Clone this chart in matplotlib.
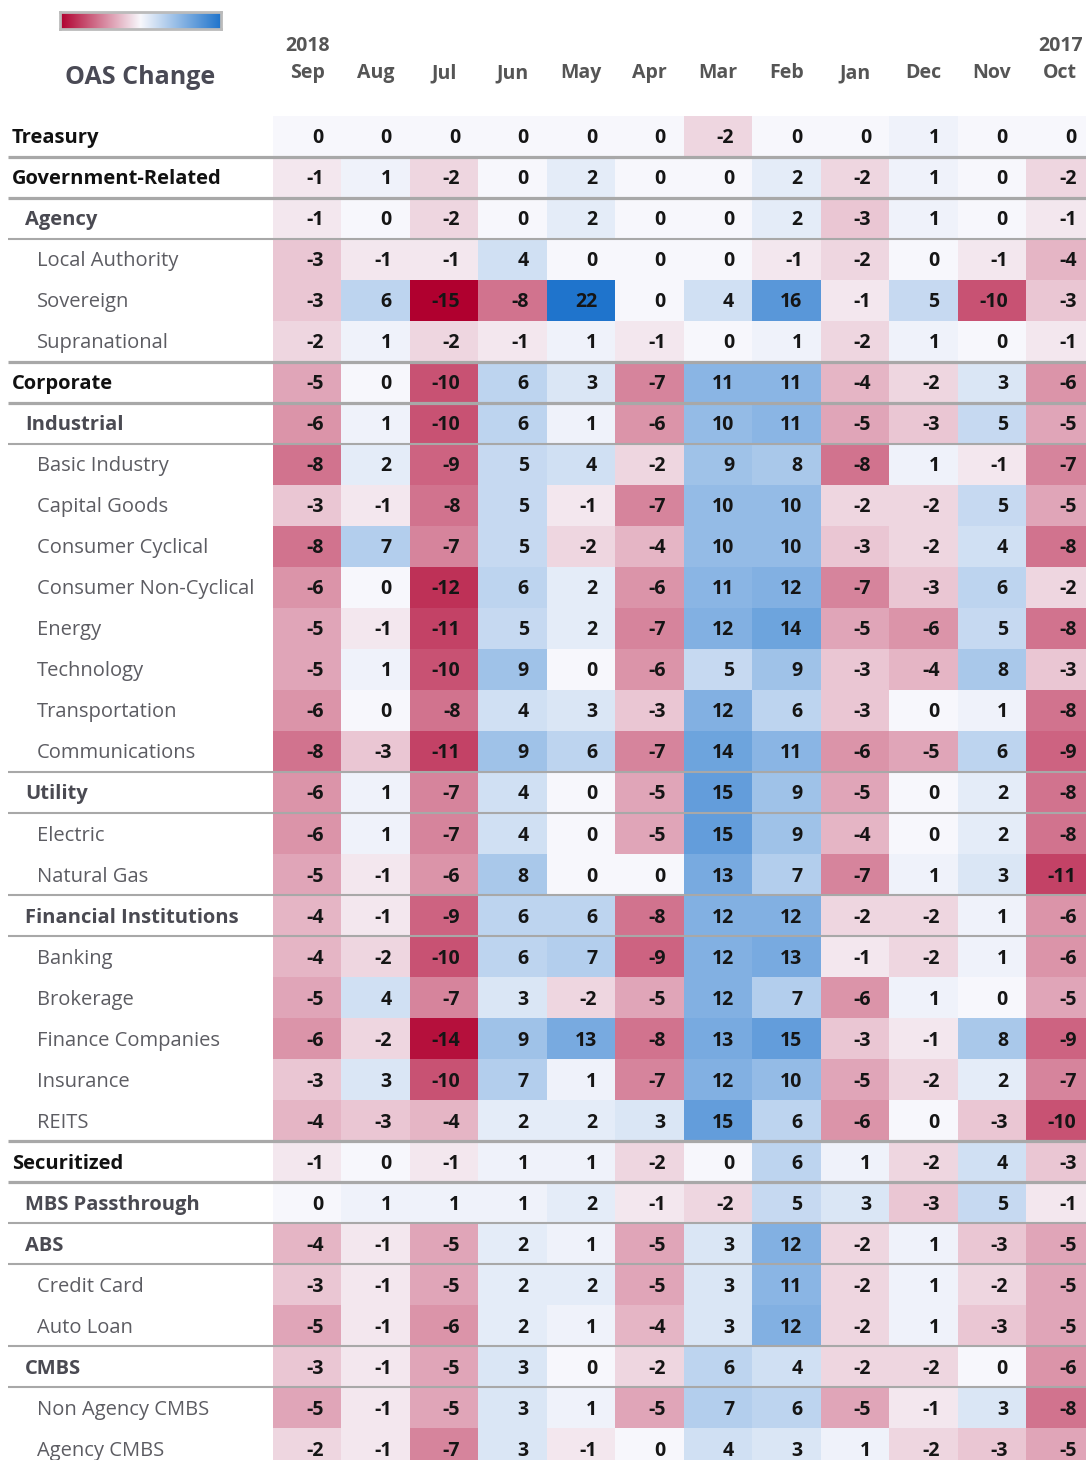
import numpy as np
import matplotlib
matplotlib.use('Agg')
from matplotlib import pyplot as plt
from matplotlib.colors import LinearSegmentedColormap, TwoSlopeNorm

plt.rcParams['font.family'] = ['Open Sans', 'DejaVu Sans']

months = ['Sep', 'Aug', 'Jul', 'Jun', 'May', 'Apr', 'Mar', 'Feb', 'Jan', 'Dec', 'Nov', 'Oct']
years = {'Sep': '2018', 'Oct': '2017'}

rows = ['Treasury', 'Government-Related', 'Agency', 'Local Authority', 'Sovereign',
        'Supranational', 'Corporate', 'Industrial', 'Basic Industry', 'Capital Goods',
        'Consumer Cyclical', 'Consumer Non-Cyclical', 'Energy', 'Technology',
        'Transportation', 'Communications', 'Utility', 'Electric', 'Natural Gas',
        'Financial Institutions', 'Banking', 'Brokerage', 'Finance Companies',
        'Insurance', 'REITS', 'Securitized', 'MBS Passthrough', 'ABS', 'Credit Card',
        'Auto Loan', 'CMBS', 'Non Agency CMBS', 'Agency CMBS']
levels = [0, 0, 1, 2, 2, 2, 0, 1, 2, 2, 2, 2, 2, 2, 2, 2, 1, 2, 2, 1, 2, 2, 2, 2, 2,
          0, 1, 1, 2, 2, 1, 2, 2]

oas = np.array([
    [0, 0, 0, 0, 0, 0, -2, 0, 0, 1, 0, 0],
    [-1, 1, -2, 0, 2, 0, 0, 2, -2, 1, 0, -2],
    [-1, 0, -2, 0, 2, 0, 0, 2, -3, 1, 0, -1],
    [-3, -1, -1, 4, 0, 0, 0, -1, -2, 0, -1, -4],
    [-3, 6, -15, -8, 22, 0, 4, 16, -1, 5, -10, -3],
    [-2, 1, -2, -1, 1, -1, 0, 1, -2, 1, 0, -1],
    [-5, 0, -10, 6, 3, -7, 11, 11, -4, -2, 3, -6],
    [-6, 1, -10, 6, 1, -6, 10, 11, -5, -3, 5, -5],
    [-8, 2, -9, 5, 4, -2, 9, 8, -8, 1, -1, -7],
    [-3, -1, -8, 5, -1, -7, 10, 10, -2, -2, 5, -5],
    [-8, 7, -7, 5, -2, -4, 10, 10, -3, -2, 4, -8],
    [-6, 0, -12, 6, 2, -6, 11, 12, -7, -3, 6, -2],
    [-5, -1, -11, 5, 2, -7, 12, 14, -5, -6, 5, -8],
    [-5, 1, -10, 9, 0, -6, 5, 9, -3, -4, 8, -3],
    [-6, 0, -8, 4, 3, -3, 12, 6, -3, 0, 1, -8],
    [-8, -3, -11, 9, 6, -7, 14, 11, -6, -5, 6, -9],
    [-6, 1, -7, 4, 0, -5, 15, 9, -5, 0, 2, -8],
    [-6, 1, -7, 4, 0, -5, 15, 9, -4, 0, 2, -8],
    [-5, -1, -6, 8, 0, 0, 13, 7, -7, 1, 3, -11],
    [-4, -1, -9, 6, 6, -8, 12, 12, -2, -2, 1, -6],
    [-4, -2, -10, 6, 7, -9, 12, 13, -1, -2, 1, -6],
    [-5, 4, -7, 3, -2, -5, 12, 7, -6, 1, 0, -5],
    [-6, -2, -14, 9, 13, -8, 13, 15, -3, -1, 8, -9],
    [-3, 3, -10, 7, 1, -7, 12, 10, -5, -2, 2, -7],
    [-4, -3, -4, 2, 2, 3, 15, 6, -6, 0, -3, -10],
    [-1, 0, -1, 1, 1, -2, 0, 6, 1, -2, 4, -3],
    [0, 1, 1, 1, 2, -1, -2, 5, 3, -3, 5, -1],
    [-4, -1, -5, 2, 1, -5, 3, 12, -2, 1, -3, -5],
    [-3, -1, -5, 2, 2, -5, 3, 11, -2, 1, -2, -5],
    [-5, -1, -6, 2, 1, -4, 3, 12, -2, 1, -3, -5],
    [-3, -1, -5, 3, 0, -2, 6, 4, -2, -2, 0, -6],
    [-5, -1, -5, 3, 1, -5, 7, 6, -5, -1, 3, -8],
    [-2, -1, -7, 3, -1, 0, 4, 3, 1, -2, -3, -5],
])

# layout in pixels
W, H = 1086, 1460
X0, CW = 273, 68.45
Y0, RH = 115.5, 41.03
indent = {0: 12, 1: 25, 2: 37}
lab_style = {0: dict(color='#111111', fontweight='bold'),
             1: dict(color='#4a4a52', fontweight='bold'),
             2: dict(color='#5c5c62', fontweight='normal')}

cmap = LinearSegmentedColormap.from_list('oas', ['#b0002f', '#f8f8fc', '#1f74cc'])
norm = TwoSlopeNorm(vmin=-15, vcenter=0, vmax=22)

fig = plt.figure(figsize=(W / 100, H / 100), dpi=100)
ax = fig.add_axes([0, 0, 1, 1])
ax.set_xlim(0, W)
ax.set_ylim(H, 0)
ax.axis('off')

xe = X0 + np.arange(len(months) + 1) * CW
ye = Y0 + np.arange(len(rows) + 1) * RH
ax.pcolormesh(xe, ye, oas, cmap=cmap, norm=norm, shading='flat')

for i, name in enumerate(rows):
    yc = Y0 + (i + 0.5) * RH + 2
    lv = levels[i]
    ax.text(indent[lv], yc, name, fontsize=14.5, va='center', ha='left', **lab_style[lv])
    for j, v in enumerate(oas[i]):
        ax.text(X0 + (j + 1) * CW - 18, yc, str(v), fontsize=14, va='center',
                ha='right', color='#151515', fontweight='bold')

# separator lines around bold rows
for i in range(len(rows) - 1):
    a, b = levels[i], levels[i + 1]
    if min(a, b) == 0:
        ax.plot([8, W], [ye[i + 1]] * 2, color='#a8a8a8', lw=2.3, solid_capstyle='butt')
    elif min(a, b) == 1:
        ax.plot([8, W], [ye[i + 1]] * 2, color='#a8a8a8', lw=1.5, solid_capstyle='butt')

# header
for j, m in enumerate(months):
    xc = X0 + (j + 0.5) * CW
    ax.text(xc, 73, m, fontsize=14, ha='center', va='center', color='#555555',
            fontweight='bold')
    if m in years:
        ax.text(xc, 46, years[m], fontsize=14, ha='center', va='center', color='#555555',
                fontweight='bold')

ax.text(140, 78, 'OAS Change', fontsize=18, ha='center', va='center', color='#4a4a55',
        fontweight='bold')

# colour key
cax = fig.add_axes([60 / W, 1 - 29 / H, 161 / W, 17 / H])
cax.imshow(np.linspace(0, 1, 256)[None, :], cmap=cmap, aspect='auto')
cax.set_xticks([])
cax.set_yticks([])
for s in cax.spines.values():
    s.set_color('#bbbbbb')
    s.set_linewidth(2)

fig.savefig('out.png', dpi=100)
